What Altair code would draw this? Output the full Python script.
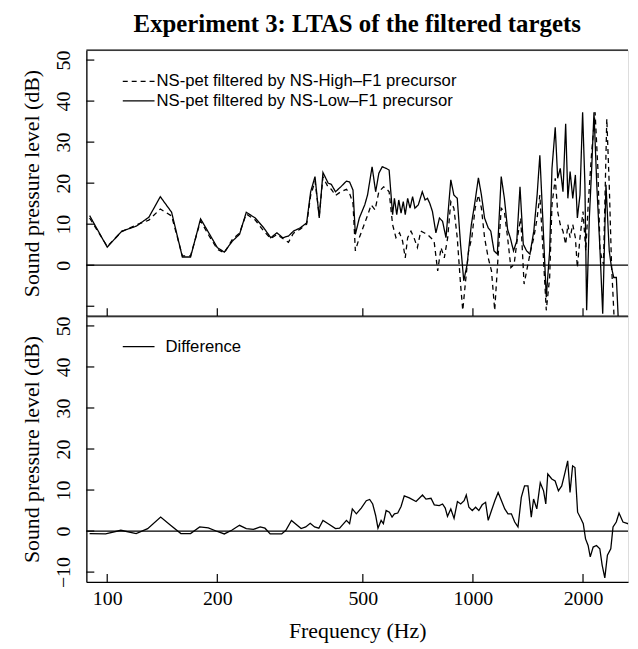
import altair as alt
import pandas as pd

# ---------------- data ----------------
freq_low = [89.5, 100, 109.6, 120, 130, 139.7, 150, 160.5, 169, 180, 189.5, 200, 209, 220, 230, 240,
            254, 268, 280, 291, 302, 313, 323, 337, 351, 360, 370, 380, 389, 402, 410, 421, 435, 451,
            460, 470, 477, 489, 506, 515, 530, 542, 553, 565, 579, 590, 603, 610, 619, 627, 636, 645,
            653, 663, 673, 684, 694, 709, 727, 740, 751, 762, 775, 792, 810, 826, 844, 870, 887, 906,
            925, 944, 964, 990, 1010, 1035, 1055, 1076, 1101, 1119, 1142, 1166, 1195, 1219, 1244, 1265,
            1291, 1318, 1345, 1373, 1402, 1432, 1467, 1498, 1524, 1555, 1587, 1621, 1645, 1679, 1705,
            1733, 1763, 1793, 1818, 1844, 1875, 1906, 1930, 1962, 1995, 2024, 2046, 2081, 2112, 2143,
            2181, 2226, 2264, 2311, 2359, 2393, 2427, 2467, 2493, 2510]
spl_low = [12.1, 4.4, 8.3, 9.5, 11.7, 16.7, 12.9, 2.0, 2.0, 11.3, 7.9, 4.3, 3.2, 5.9, 7.5, 12.9,
           11.5, 9.1, 6.7, 7.9, 6.7, 7.1, 8.3, 9.1, 10.3, 17.9, 21.6, 11.5, 22.6, 20.0, 19.7, 17.9, 19.1, 20.5,
           20.3, 18.3, 7.5, 11.5, 14.7, 17.1, 24.0, 17.9, 22.4, 24.0, 23.6, 23.2, 12.3, 16.3, 12.3, 15.9, 12.7, 15.5,
           12.3, 16.3, 13.9, 16.7, 13.9, 14.7, 17.9, 15.9, 16.3, 15.1, 13.1, 7.9, 11.5, 10.7, 6.7, 20.8, 17.1, 16.3,
           5.1, -3.8, 0.2, 9.9, 14.7, 21.3, 17.1, 11.5, 9.1, 8.3, 3.5, 2.7, 21.6, 16.3, 8.7, 6.7,
           3.5, 5.9, 19.1, 5.1, 3.5, 2.7, 8.3, 17.1, 26.8, 9.9, -7.8, 3.5, 23.6, 33.6, 21.2,
           23.6, 17.9, 34.5, 16.3, 22.8, 16.3, 22.0, 11.5, 17.1, 37.3, 19.6, -11.0, 11.5, 23.6, 37.3,
           19.6, 3.5, -11.8, 19.6, 3.5, -0.6, -3.0, -3.0, -11.8, -20.0]

freq_high = [89.5, 100, 109.6, 120, 130, 139.7, 150, 160.5, 169, 180, 189.5, 200, 209, 220, 230, 240,
             254, 268, 280, 291, 302, 313, 323, 337, 351, 360, 370, 380, 389, 402, 410, 421, 435, 451,
             460, 470, 477, 489, 512, 527, 540, 553, 570, 579, 590, 603, 616, 630, 642, 653, 663, 677,
             690, 705, 720, 735, 751, 767, 783, 801, 818, 835, 853, 870, 887, 906, 925, 938, 953, 973,
             993, 1014, 1035, 1055, 1076, 1101, 1124, 1147, 1171, 1195, 1219, 1244, 1270, 1296, 1323,
             1351, 1380, 1408, 1438, 1467, 1498, 1524, 1555, 1587, 1621, 1645, 1679, 1705, 1733, 1763,
             1793, 1818, 1844, 1875, 1906, 1930, 1962, 2000, 2035, 2066, 2112, 2158, 2196, 2226, 2275,
             2323, 2359, 2393, 2427, 2450]
spl_high = [11.5, 4.6, 8.2, 9.8, 11.0, 13.7, 12.0, 2.3, 2.3, 10.8, 7.3, 3.9, 3.0, 6.3, 7.8, 12.5,
            11.0, 8.3, 6.5, 7.5, 6.5, 5.6, 7.8, 8.8, 10.0, 17.0, 20.5, 12.0, 21.5, 19.0, 18.5, 17.0, 17.9, 18.5,
            17.5, 15.0, 3.5, 6.7, 11.5, 14.7, 13.5, 17.9, 19.1, 18.7, 17.9, 9.9, 6.7, 7.9, 5.9, 1.8, 6.7, 8.3,
            6.7, 4.3, 8.3, 7.9, 7.5, 6.7, 5.9, -1.4, 4.3, 1.8, 6.7, 15.5, 13.9, 6.7, -4.6, -11.0, -4.6, 3.5,
            6.7, 13.9, 17.1, 13.9, 6.7, 1.8, -1.4, -11.0, 1.8, 13.9, 13.1, 6.7, -0.6, 0.2, 6.7,
            11.5, -4.6, -0.6, 3.5, 6.7, 11.5, 17.1, 3.5, -11.0, -3.0, 14.7, 21.2, 13.1, 9.9, 8.3,
            5.1, 9.9, 6.7, 9.9, 6.7, -0.6, 6.7, 13.1, 3.5, 14.7, 27.6, 37.3, 23.6, 3.5, 0.2,
            35.7, 19.6, 0.2, -11.0, -20.0]

freq_diff = [89.5, 99, 109, 120, 129, 140, 149, 159, 169, 179, 189, 200, 209, 219, 230, 240, 251, 262,
             270, 279, 300, 308, 319, 339, 349, 359, 369, 379, 389, 402, 421, 432, 451, 460, 468, 480,
             495, 511, 522, 532, 542, 550, 561, 569, 579, 591, 601, 610, 623, 636, 649, 670, 699, 728,
             744, 768, 784, 809, 826, 840, 852, 870, 888, 907, 926, 946, 959, 975, 996, 1017, 1038,
             1060, 1083, 1101, 1124, 1148, 1172, 1197, 1222, 1247, 1274, 1301, 1328, 1356, 1384, 1414,
             1444, 1465, 1495, 1528, 1560, 1582, 1602, 1643, 1678, 1713, 1749, 1786, 1816, 1843, 1873,
             1901, 1933, 1974, 2003, 2032, 2065, 2093, 2132, 2177, 2223, 2256, 2294, 2332, 2382, 2416,
             2466, 2509, 2572, 2654, 2710, 2791]
spl_diff = [-0.6, -0.7, 0.2, -0.6, 0.6, 3.4, 1.4, -0.6, -0.6, 1.0, 0.8, -0.1, -0.7, 0.2, 1.4, 0.6, 0.4, 1.0,
            0.7, -0.7, -0.7, 0.2, 2.6, 0.6, 1.0, 1.9, 1.0, 0.7, 2.6, 1.8, 0.6, 0.7, 2.6, 1.8, 5.4, 4.2,
            5.6, 7.4, 7.7, 6.6, 3.8, 0.7, 2.6, 1.8, 5.0, 4.6, 3.4, 4.2, 4.4, 6.0, 8.6, 8.1, 7.2, 8.8,
            7.8, 8.0, 6.4, 6.2, 6.6, 5.6, 3.6, 5.4, 3.1, 7.2, 6.6, 7.4, 8.8, 5.8, 5.0, 5.8, 5.0,
            6.4, 7.0, 2.6, 5.0, 7.4, 9.4, 7.4, 5.4, 4.2, 4.2, 2.2, 1.0, 8.2, 11.0, 11.0,
            3.4, 7.8, 5.4, 11.8, 9.8, 6.6, 13.9, 12.7, 12.2, 9.8, 11.0, 14.3, 17.1, 9.4, 15.9,
            15.5, 4.6, 3.0, 1.8, -1.9, -3.5, -6.3, -3.9, -3.5, -4.3, -8.3, -11.4, -5.9, -4.3, 1.0,
            2.2, 4.4, 2.2, 1.8, 2.6, 1.8]

x_ticks = [100, 200, 500, 1000, 2000]
y_ticks = [-10, 0, 10, 20, 30, 40, 50]
top_labels = [0, 10, 20, 30, 40, 50]

lab_high = "NS-pet filtered by NS-High\u2013F1 precursor"
lab_low = "NS-pet filtered by NS-Low\u2013F1 precursor"
lab_diff = "Difference"

# ---------------- styling ----------------
W, H = 546, 268
XDOM = [87.7, 2655]
YDOM = [-12.4, 52.4]
SERIF = "Liberation Serif"
SANS = "Liberation Sans"
LW = 1.3
TICK = 8

top_df = pd.concat([
    pd.DataFrame({"f": freq_high, "spl": spl_high, "series": lab_high}),
    pd.DataFrame({"f": freq_low, "spl": spl_low, "series": lab_low}),
], ignore_index=True)
diff_df = pd.DataFrame({"f": freq_diff, "spl": spl_diff, "series": lab_diff})
zero_df = pd.DataFrame({"y": [0]})
xt_df = pd.DataFrame({"t": x_ticks})
yt_df = pd.DataFrame({"t": y_ticks})

xscale = alt.Scale(type="log", domain=XDOM, nice=False, zero=False)
yscale = alt.Scale(domain=YDOM, nice=False, zero=False)


def x_main(labels):
    kw = dict(orient="bottom", values=x_ticks, tickSize=0, grid=False, domainColor="black",
              domainWidth=1.3, labels=labels)
    if labels:
        kw.update(format="d", labelFont=SERIF, labelFontSize=20, labelColor="black", labelPadding=7,
                  titleFont=SERIF, titleFontSize=22, titleFontWeight="normal",
                  titleColor="black", titlePadding=12)
    return alt.Axis(**kw)


def y_main(vals):
    return alt.Axis(orient="left", values=vals, tickSize=0, grid=False, domainColor="black",
                    domainWidth=1.3, labelFont=SERIF, labelFontSize=20, labelColor="black",
                    labelAngle=-90, labelAlign="center", labelBaseline="bottom", labelPadding=13,
                    titleFont=SERIF, titleFontSize=22, titleFontWeight="normal", titleColor="black",
                    titlePadding=10)


def legend(offset, ly):
    return alt.Legend(title=None, orient="none", legendX=43.7, legendY=ly, padding=0,
                      symbolType="M-2,0H2", symbolSize=256, symbolStrokeColor="black",
                      symbolStrokeWidth=LW, labelFont=SANS, labelFontSize=16.8, labelColor="black",
                      labelOffset=offset, rowPadding=1.5, labelLimit=0)


def panel(df, enc_extra, labels, title=None):
    lines = alt.Chart(df).mark_line(color="black", strokeWidth=LW, clip=True).encode(
        x=alt.X("f:Q", scale=xscale, axis=x_main(labels), title="Frequency (Hz)" if labels else None),
        y=alt.Y("spl:Q", scale=yscale, axis=y_main(top_labels if not labels else y_ticks),
                title="Sound pressure level (dB)"),
        **enc_extra,
    )
    # inward tick marks (R style), placed through the scales
    xt = alt.Chart(xt_df).mark_rule(color="black", strokeWidth=1.2).encode(
        x=alt.X("t:Q", scale=xscale, axis=None), y=alt.value(H), y2=alt.value(H - TICK)
    )
    yt = alt.Chart(yt_df).mark_rule(color="black", strokeWidth=1.2).encode(
        y=alt.Y("t:Q", scale=yscale, axis=None), x=alt.value(0), x2=alt.value(TICK)
    )
    zero = alt.Chart(zero_df).mark_rule(color="black", strokeWidth=1.2).encode(
        y=alt.Y("y:Q", scale=yscale, axis=None)
    )
    border = alt.Chart(zero_df).mark_rule(color="black", strokeWidth=1.3).encode(
        y=alt.value(0), x=alt.value(0), x2=alt.value(W)
    )
    props = dict(width=W, height=H)
    if title is not None:
        props["title"] = title
    return alt.layer(lines, xt, yt, zero, border).resolve_axis(
        x="independent", y="independent").properties(**props)


top = panel(
    top_df,
    dict(strokeDash=alt.StrokeDash("series:N",
                                   scale=alt.Scale(domain=[lab_high, lab_low], range=[[5, 4], [1, 0]]),
                                   legend=legend(9, 22.5))),
    False,
    title=alt.Title("Experiment 3: LTAS of the filtered targets", font=SERIF, fontSize=25,
                    fontWeight="bold", color="black", anchor="middle", baseline="alphabetic",
                    offset=17, dy=24),
)
bottom = panel(
    diff_df,
    dict(color=alt.Color("series:N", scale=alt.Scale(domain=[lab_diff], range=["black"]),
                         legend=legend(18, 21.8))),
    True,
)

chart = alt.vconcat(top, bottom, spacing=0, bounds="flush").resolve_legend(
    strokeDash="independent", color="independent"
).resolve_scale(strokeDash="independent", color="independent").properties(
    padding={"left": 12, "top": 0, "right": 0, "bottom": 0}
).configure_view(stroke=None).configure(background="white")

chart.save("out.html", embed_options={"renderer": "svg", "actions": False})
